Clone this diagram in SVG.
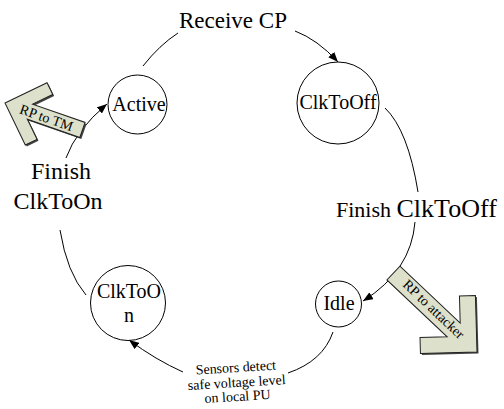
<svg xmlns="http://www.w3.org/2000/svg" xmlns:xlink="http://www.w3.org/1999/xlink" width="504" height="409" viewBox="0 0 504 409">
<style>
.node{fill:#fff;stroke:#000;stroke-width:1}
.lbl{font-family:"Liberation Serif","Times New Roman",serif;fill:#000}
.nt{font-size:20px;text-anchor:middle}
.conn{fill:none;stroke:#000;stroke-width:1}
.barrow{fill:#dde0ca;stroke:#222;stroke-width:1}
.shadow{fill:#444;stroke:none}
</style>
<defs>
<marker id="ah" markerUnits="userSpaceOnUse" markerWidth="11" markerHeight="8" refX="10" refY="4" orient="auto">
<path d="M0,0 L10,4 L0,8 Z" fill="#000"/>
</marker>
<path id="tmShape" d="M0,0 L33,-33 L42.2,-23.8 L26.4,-8 L82,-8 L82,8 L26.4,8 L42.2,23.8 L33,33 Z"/>
<path id="atkShape" d="M0,0 L40,-40 L51.3,-28.7 L32.1,-9.5 L115,-9.5 L115,9.5 L32.1,9.5 L51.3,28.7 L40,40 Z"/>
</defs>
<rect width="504" height="409" fill="#fff"/>

<g id="connectors">
<path class="conn" d="M143,66 Q159.5,45 178,33"/>
<path class="conn" d="M295,31 Q317.5,39.5 338,62" marker-end="url(#ah)"/>
<path class="conn" d="M385,108 Q408,130 418,192"/>
<path class="conn" d="M415,222 Q411,271 363,301" marker-end="url(#ah)"/>
<path class="conn" d="M333,332 Q323,361 288,373"/>
<path class="conn" d="M183,372 Q156,360 129,340" marker-end="url(#ah)"/>
<path class="conn" d="M86,295 Q67,273 60,230"/>
<path class="conn" d="M66,158 Q76,130 107,104" marker-end="url(#ah)"/>
</g>

<g id="label-receive"><text class="lbl" x="233" y="28" font-size="23" text-anchor="middle">Receive CP</text></g>
<g id="label-finish-off"><text class="lbl" x="336" y="217"><tspan font-size="22">Finish </tspan><tspan font-size="26">ClkToOff</tspan></text></g>
<g id="label-finish-on">
<text class="lbl" x="61" y="179" font-size="24" text-anchor="middle">Finish</text>
<text class="lbl" x="58" y="209" font-size="24" text-anchor="middle">ClkToOn</text>
</g>
<g id="label-sensors" transform="rotate(-3.5 237 387)">
<text class="lbl" x="237" y="372" font-size="14" text-anchor="middle">Sensors detect</text>
<text class="lbl" x="237" y="387" font-size="14" text-anchor="middle">safe voltage level</text>
<text class="lbl" x="237" y="401" font-size="14" text-anchor="middle">on local PU</text>
</g>

<g id="node-active">
<circle class="node" cx="137.5" cy="104.5" r="29.5"/>
<text class="lbl nt" x="139" y="110.5">Active</text>
</g>
<g id="node-clktooff">
<circle class="node" cx="338" cy="103" r="41"/>
<text class="lbl nt" x="338" y="109">ClkToOff</text>
</g>
<g id="node-idle">
<circle class="node" cx="338.5" cy="304" r="23"/>
<text class="lbl nt" x="339" y="310">Idle</text>
</g>
<g id="node-clktoon">
<circle class="node" cx="128" cy="303" r="37.5"/>
<text class="lbl nt" x="129" y="298">ClkToO</text>
<text class="lbl nt" x="129" y="322">n</text>
</g>

<g id="arrow-rp-tm">
<g transform="translate(6.5,104.5) rotate(19.2)"><use xlink:href="#tmShape" class="shadow"/></g>
<g transform="translate(5,103) rotate(19.2)">
<use xlink:href="#tmShape" class="barrow"/>
<text class="lbl" x="44" y="5" font-size="14" text-anchor="middle">RP to TM</text>
</g>
</g>
<g id="arrow-rp-attacker">
<g transform="translate(478.5,353.5) rotate(223.4)"><use xlink:href="#atkShape" class="shadow"/></g>
<g transform="translate(477,352) rotate(223.4)"><use xlink:href="#atkShape" class="barrow"/></g>
<text class="lbl" transform="translate(434,309) rotate(43.4)" x="0" y="5" font-size="14" text-anchor="middle">RP to attacker</text>
</g>
</svg>
